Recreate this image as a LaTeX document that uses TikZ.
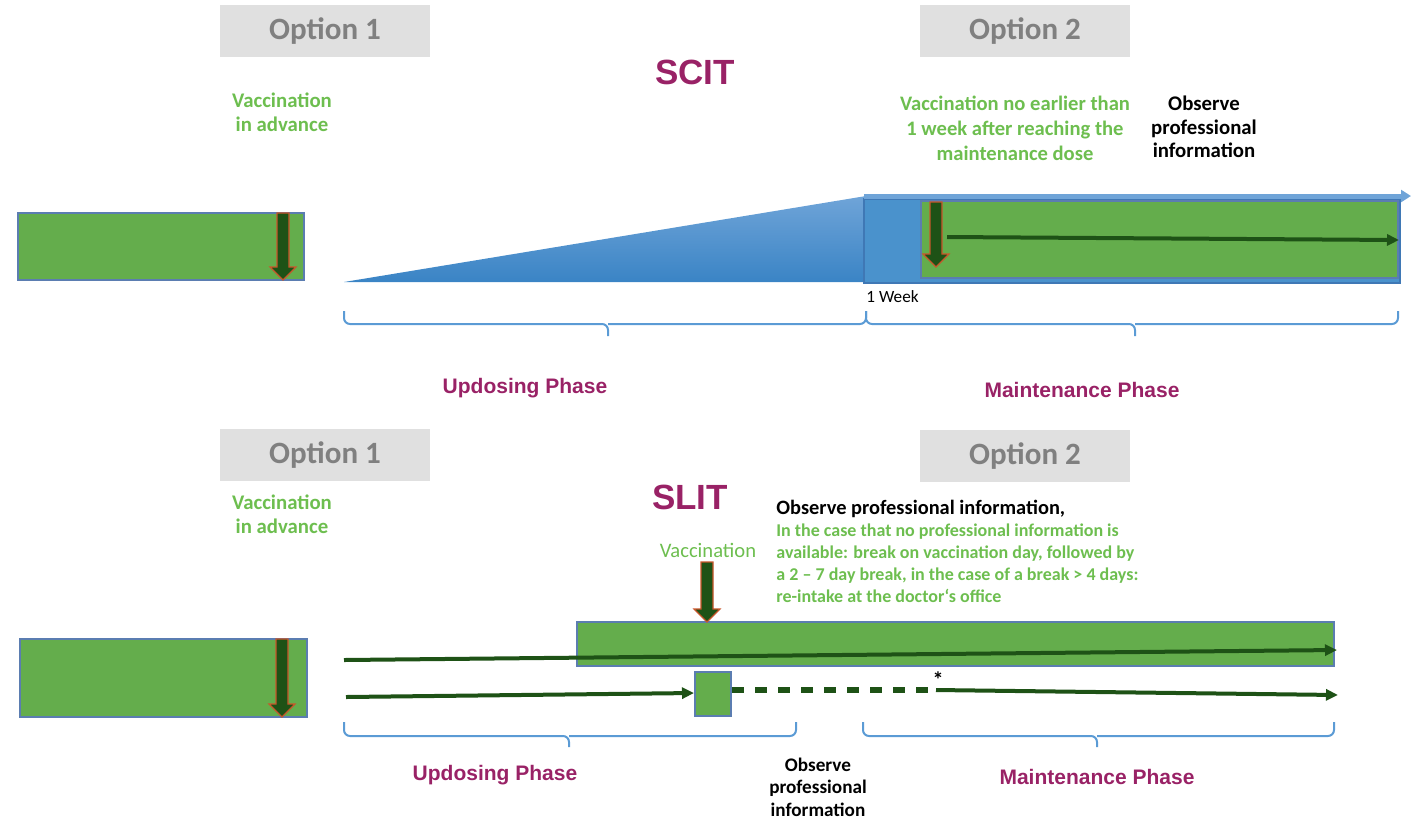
\documentclass[tikz,border=0pt]{standalone}
\usepackage{fontspec}
\setmainfont{Carlito}
\newfontfamily\arialfont{Liberation Sans}
\usetikzlibrary{arrows.meta}
\definecolor{barfill}{HTML}{64AD4C}
\definecolor{barline}{HTML}{5B7DB1}
\definecolor{darkgreen}{HTML}{1E5216}
\definecolor{arrowrim}{HTML}{C9562B}
\definecolor{txtgreen}{HTML}{6DBE4F}
\definecolor{plum}{HTML}{992266}
\definecolor{optgray}{HTML}{E0E0E0}
\definecolor{opttext}{HTML}{808080}
\definecolor{bracecol}{HTML}{5B9BD5}
\definecolor{rampdark}{HTML}{3A84C5}
\definecolor{ramplight}{HTML}{6FA4D8}
\definecolor{bandfill}{HTML}{4A92CC}
\definecolor{bandline}{HTML}{3F78B5}

% block arrow marking a vaccination: x, top y, tip y
\newcommand\vaxarrow[3]{%
  \filldraw[draw=arrowrim, fill=darkgreen, line width=0.6pt]
    ({#1-6},#2) -- ({#1+6},#2) -- ({#1+6},{#3-13}) -- ({#1+13},{#3-13})
    -- (#1,#3) -- ({#1-13},{#3-13}) -- ({#1-6},{#3-13}) -- cycle;}

% curly bracket under a phase: left x, right x, middle x, top y, bar y, tip y
\newcommand\phasebrace[6]{%
  \draw[bracecol, line width=1pt, rounded corners=3pt]
    (#1,#4) |- (#3,#5) -- (#3,#6);
  \draw[bracecol, line width=1pt, rounded corners=3pt]
    (#3,#5) -| (#2,#4);}

\begin{document}
\begin{tikzpicture}[x=0.5pt,y=-0.5pt,
  optbox/.style={fill=optgray, minimum width=105pt, minimum height=26pt,
    inner sep=0pt, text=opttext, font=\fontsize{15.5}{17}\selectfont\bfseries},
  title/.style={text=plum, font=\arialfont\bfseries\fontsize{17.5}{20}\selectfont},
  phase/.style={text=plum, font=\arialfont\bfseries\fontsize{10.5}{12}\selectfont},
  greennote/.style={text=txtgreen, align=center, inner sep=0pt,
    font=\bfseries\fontsize{10.4}{12}\selectfont},
  blacknote/.style={text=black, align=center, inner sep=0pt,
    font=\bfseries\fontsize{10.4}{11.75}\selectfont},
  flow/.style={darkgreen, line width=2pt, -{Triangle[length=6pt,width=5.5pt]}},
  bar/.style={fill=barfill, draw=barline, line width=1pt}
]
\useasboundingbox (0,0) rectangle (1414,821);

% ---------------- SCIT ----------------
\node[optbox] (opt1a) at (325,31) {Option 1};
\node[optbox] (opt2a) at (1025,31) {Option 2};
\node[title] (scit) at (695,72) {SCIT};
\node[greennote] (vaxadv1) at (282,112) {Vaccination\\in advance};
\node[greennote, font=\bfseries\fontsize{10.3}{12.5}\selectfont] (vaxweek) at (1015,128)
  {Vaccination no earlier than\\1 week after reaching the\\maintenance dose};
\node[blacknote] (obs1) at (1204,127) {Observe\\professional\\information};

% advance vaccination bar
\fill[bar] (18,213) rectangle (304,280);
\vaxarrow{283}{213}{280}

% updosing ramp and maintenance band
\shade[top color=ramplight, bottom color=rampdark]
  (344,282) -- (866,196) -- (866,282) -- cycle;
\filldraw[fill=bandfill, draw=bandline, line width=1pt] (864,199) rectangle (1400,283);
\coordinate (bandstart) at (864,196);
\coordinate (bandend) at (1411,196);
\draw[ramplight, line width=2.5pt, -{Triangle[length=5pt,width=6pt]}] (bandstart) -- (bandend);
\fill[bar] (921,201) rectangle (1398,278);
\vaxarrow{936}{202}{267}
\coordinate (mstart) at (947,237);
\coordinate (mend) at (1399,240);
\draw[flow] (mstart) -- (mend);
\node[anchor=west, inner sep=0pt, font=\fontsize{8.6}{10}\selectfont] (week) at (866,297) {1 Week};

\phasebrace{344}{866}{608}{311}{324}{336}
\phasebrace{866}{1398}{1135}{311}{324}{336}
\node[phase] (upd1) at (525,388) {Updosing Phase};
\node[phase] (mnt1) at (1082,390) {Maintenance Phase};

% ---------------- SLIT ----------------
\node[optbox] (opt1b) at (325,455) {Option 1};
\node[optbox] (opt2b) at (1025,456) {Option 2};
\node[title] (slit) at (690,497) {SLIT};
\node[greennote] (vaxadv2) at (282,514) {Vaccination\\in advance};
\node[text=txtgreen, inner sep=0pt, font=\fontsize{10.3}{12}\selectfont] (vaxlbl) at (708,550) {Vaccination};
\node[anchor=north west, inner sep=0pt, align=left, font=\bfseries\fontsize{9}{11}\selectfont]
  (obs2) at (776,500) {{\fontsize{10.2}{11}\selectfont Observe professional information,}\\
  \textcolor{txtgreen}{In the case that no professional information is}\\
  \textcolor{txtgreen}{available: break on vaccination day, followed by}\\
  \textcolor{txtgreen}{a 2 -- 7 day break, in the case of a break > 4 days:}\\
  \textcolor{txtgreen}{re-intake at the doctor`s office}};

% advance vaccination bar
\fill[bar] (20,639) rectangle (307,717);
\vaxarrow{282}{639}{717}

% continuous intake bar with vaccination
\fill[bar] (577,622) rectangle (1334,666);
\vaxarrow{707}{562}{622}
\coordinate (longstart) at (344,660);
\coordinate (longend) at (1337,650);
\draw[flow] (longstart) -- (longend);

% intake with break on vaccination day
\node[bar, minimum width=18pt, minimum height=22pt, inner sep=0pt] (vaxday) at (713,694) {};
\coordinate (shortstart) at (346,697);
\draw[flow] (shortstart) -- (vaxday.west |- 0,693);
\coordinate (resume) at (936,690);
\draw[darkgreen, line width=3pt, dash pattern=on 6pt off 5.5pt] (vaxday.east |- 0,690) -- (resume);
\node[inner sep=0pt, font=\bfseries\fontsize{11}{12}\selectfont] (star) at (938,680) {*};
\coordinate (resumeend) at (1338,695);
\draw[flow] (resume) -- (resumeend);

\phasebrace{344}{796}{569}{722}{736}{747}
\phasebrace{863}{1334}{1097}{722}{736}{747}
\node[phase] (upd2) at (495,775) {Updosing Phase};
\node[blacknote, font=\bfseries\fontsize{9.6}{11.25}\selectfont] (obs3) at (818,787) {Observe\\professional\\information};
\node[phase] (mnt2) at (1097,777) {Maintenance Phase};
\end{tikzpicture}
\end{document}
